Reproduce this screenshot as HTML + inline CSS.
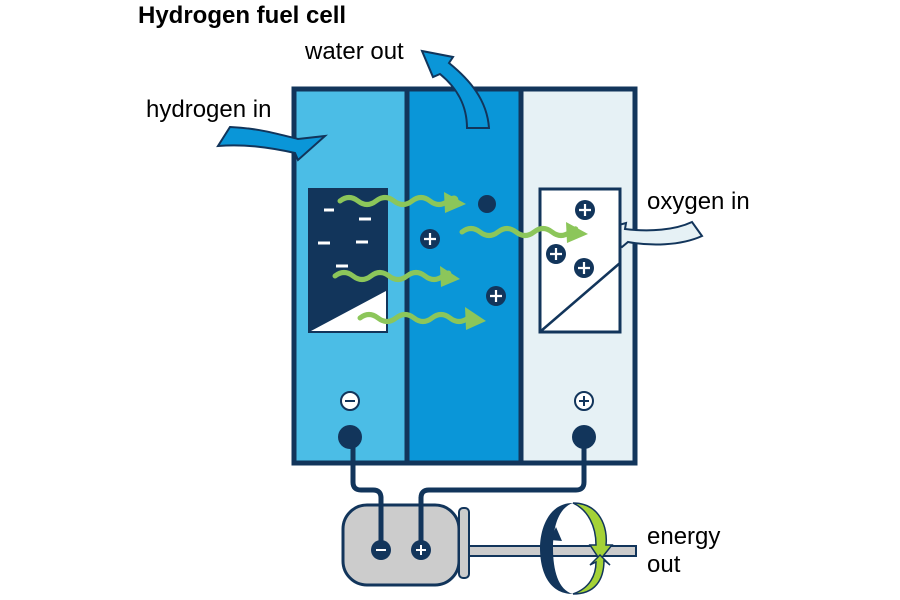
<!DOCTYPE html>
<html><head><style>body{margin:0;background:#fff}svg{display:block}text{font-family:"Liberation Sans",sans-serif}</style></head><body>
<svg width="900" height="600" viewBox="0 0 900 600">
<text x="138" y="23" font-size="24" font-weight="bold" fill="#000">Hydrogen fuel cell</text>
<text x="305" y="59" font-size="24">water out</text>
<text x="146" y="117" font-size="24">hydrogen in</text>
<text x="647" y="209" font-size="24">oxygen in</text>
<text x="647" y="544" font-size="24">energy</text>
<text x="647" y="572" font-size="24">out</text>
<!-- cell -->
<rect x="294" y="89" width="114" height="374" fill="#4bbde6"/>
<rect x="408" y="89" width="113" height="374" fill="#0a96d8"/>
<rect x="521" y="89" width="114" height="374" fill="#e6f1f5"/>
<rect x="294" y="89" width="341" height="374" fill="none" stroke="#12355b" stroke-width="5"/>
<line x1="407" y1="89" x2="407" y2="463" stroke="#12355b" stroke-width="5"/>
<line x1="521" y1="89" x2="521" y2="463" stroke="#12355b" stroke-width="5"/>
<!-- water out arrow -->
<path d="M467,128 C467,105 457,88 440,74 L433,77 L422,51 L453,57 L449,63 C470,80 487,100 489,128 Z" fill="#0a96d8" stroke="#12355b" stroke-width="2"/>
<!-- hydrogen in -->
<path d="M230,127 C258,128 282,135 298,139 L325,136 L298,160 L295,153 C268,147 244,144 218,146 Z" fill="#0a96d8" stroke="#12355b" stroke-width="2"/>
<!-- oxygen in -->
<path d="M597,231 L626,223 L625,229 C650,232 675,230 692,222 L702,236 C680,246 650,246 628,242 L622,247 Z" fill="#e6f1f5" stroke="#12355b" stroke-width="2"/>
<!-- anode block -->
<rect x="309" y="189" width="78" height="143" fill="#12355b" stroke="#12355b" stroke-width="2"/>
<path d="M311,331 L386,291 L386,331 Z" fill="#fff"/>
<g stroke="#fff" stroke-width="3">
<line x1="324" y1="210" x2="334" y2="210"/><line x1="359" y1="219" x2="371" y2="219"/>
<line x1="318" y1="243" x2="330" y2="243"/><line x1="356" y1="242" x2="368" y2="242"/>
<line x1="336" y1="266" x2="348" y2="266"/></g>
<!-- cathode block -->
<rect x="540" y="189" width="80" height="143" fill="#fff" stroke="#12355b" stroke-width="3"/>
<line x1="541" y1="331" x2="620" y2="263" stroke="#12355b" stroke-width="2.5"/>
<!-- ions -->
<g fill="#12355b"><circle cx="487" cy="204" r="9"/>
<circle cx="430" cy="239" r="10"/><circle cx="496" cy="296" r="10"/>
<circle cx="585" cy="210" r="10"/><circle cx="556" cy="254" r="10"/><circle cx="584" cy="268" r="10"/></g>
<g stroke="#fff" stroke-width="2.2">
<path d="M424,239h12M430,233v12"/><path d="M490,296h12M496,290v12"/>
<path d="M579,210h12M585,204v12"/><path d="M550,254h12M556,248v12"/><path d="M578,268h12M584,262v12"/></g>
<!-- wavy arrows -->
<g fill="none" stroke="#8cc65a" stroke-width="5" stroke-linecap="round">
<path d="M340,201 q9,-7 18,0 t18,0 t18,0 t18,0 t18,0 t18,0 t8,2" />
<path d="M462,232 q9,-7 18,0 t18,0 t18,0 t18,0 t18,0 t18,0 t4,1" />
<path d="M335,276 q9,-7 18,0 t18,0 t18,0 t18,0 t18,0 t18,0 t4,2" />
<path d="M360,318 q9,-7 18,0 t18,0 t18,0 t18,0 t18,0 t18,0" />
</g>
<g fill="#8cc65a">
<path d="M444,192 L466,204 L445,213 Z"/><path d="M566,222 L588,234 L567,243 Z"/>
<path d="M440,266 L460,279 L441,287 Z"/><path d="M465,307 L486,321 L466,330 Z"/></g>
<!-- terminals -->
<circle cx="350" cy="401" r="9" fill="#fff" stroke="#12355b" stroke-width="2"/><line x1="345" y1="401" x2="355" y2="401" stroke="#12355b" stroke-width="2"/>
<circle cx="584" cy="401" r="9" fill="#fff" stroke="#12355b" stroke-width="2"/><path d="M579,401h10M584,396v10" stroke="#12355b" stroke-width="2"/>
<circle cx="350" cy="437" r="12" fill="#12355b"/><circle cx="584" cy="437" r="12" fill="#12355b"/>
<!-- wires -->
<g fill="none" stroke="#12355b" stroke-width="5">
<path d="M353,437 V482 Q353,490 361,490 H373 Q381,490 381,498 V550"/>
<path d="M584,437 V482 Q584,490 576,490 H429 Q421,490 421,498 V550"/></g>
<!-- motor -->
<rect x="468" y="546" width="168" height="10" fill="#ccc" stroke="#12355b" stroke-width="2"/>
<rect x="343" y="505" width="116" height="80" rx="24" fill="#ccc" stroke="#12355b" stroke-width="3"/>
<rect x="459" y="508" width="10" height="70" rx="4" fill="#ccc" stroke="#12355b" stroke-width="2"/>
<g fill="none" stroke="#12355b" stroke-width="5">
<path d="M381,497 V550"/><path d="M421,497 V550"/></g>
<circle cx="381" cy="550" r="10" fill="#12355b"/><circle cx="421" cy="550" r="10" fill="#12355b"/>
<line x1="376" y1="550" x2="386" y2="550" stroke="#fff" stroke-width="2"/>
<path d="M416,550h10M421,545v10" stroke="#fff" stroke-width="2"/>
<!-- rotor ring -->
<path d="M573,503 C548,503 540,530 540,548 C540,570 548,594 573,594 C558,590 553,570 553,548 C553,528 558,508 573,503 Z" fill="#12355b"/>
<path d="M573,503 C600,503 608,528 606,545 L612,545 L600,560 L590,545 L596,545 C596,526 588,510 573,503 Z" fill="#a4d237" stroke="#12355b" stroke-width="1.5"/>
<path d="M604,560 C604,580 595,594 573,594 C590,588 596,575 596,562 L590,565 L600,555 L610,565 Z" fill="#a4d237" stroke="#12355b" stroke-width="1.5"/>
<path d="M550,540 L556,527 L562,541 Z" fill="#12355b"/>
</svg>
</body></html>
